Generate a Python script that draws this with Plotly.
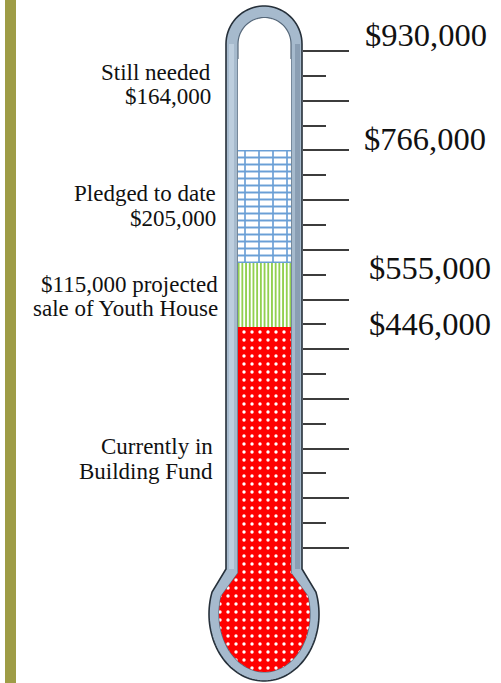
import numpy as np
import plotly.graph_objects as go

# ---------------- data ----------------
segment_names = ["Currently in Building Fund", "Projected sale of Youth House",
                 "Pledged to date", "Still needed"]
amounts = [446000, 115000, 205000, 164000]
goal = 930000
scale_labels = ["$930,000", "$766,000", "$555,000", "$446,000"]
scale_label_values = [930000, 766000, 555000, 446000]
major_ticks = [45000, 135000, 225000, 315000, 405000, 495000, 585000,
               675000, 765000, 855000, 945000]
minor_ticks = [90000, 180000, 270000, 360000, 450000, 540000, 630000,
               720000, 810000, 900000]

# ---------------- layout helpers ----------------
W, H = 501, 683
PX_PER_DOLLAR = 24.85 / 45000.0
TOP_TICK_PX = 51
y_top = major_ticks[-1] + TOP_TICK_PX / PX_PER_DOLLAR
y_bot = major_ticks[-1] - (H - TOP_TICK_PX) / PX_PER_DOLLAR
SERIF = "Liberation Serif, Times New Roman, serif"


def glass_path(xl, xr, cy_top, neck_y, ell_cx, ell_cy, rx, ry, flare_y):
    """polygon (pixel coords) of tube with round top and elliptical bulb"""
    cx = (xl + xr) / 2.0
    r = (xr - xl) / 2.0
    pts = []
    for t in np.linspace(np.pi, 0, 40):
        pts.append((cx + r * np.cos(t), cy_top - r * np.sin(t)))
    pts.append((xr, neck_y))
    s = (flare_y - ell_cy) / ry
    phi0 = np.arcsin(s)
    for p in np.linspace(phi0, np.pi - phi0, 80):
        pts.append((ell_cx + rx * np.cos(p), ell_cy + ry * np.sin(p)))
    pts.append((xl, neck_y))
    return pts


def to_svg(pts):
    return "M " + " L ".join(f"{x:.2f},{y:.2f}" for x, y in pts) + " Z"


outer = glass_path(226, 302, 44, 569, 264, 614, 55, 67, 592)
inner = glass_path(238, 291, 44, 573, 264.5, 614, 45.5, 58, 596)
zero_px = TOP_TICK_PX + major_ticks[-1] * PX_PER_DOLLAR

# bulb (lower part of inner cavity) polygon
s = (596 - 614) / 58.0
phi0 = np.arcsin(s)
bulb_pts = [(291, zero_px), (291, 573)]
for p in np.linspace(phi0, np.pi - phi0, 80):
    bulb_pts.append((264.5 + 45.5 * np.cos(p), 614 + 58 * np.sin(p)))
bulb_pts += [(238, 573), (238, zero_px), (291, zero_px)]

RED_DOTS = dict(shape=".", bgcolor="#FF0000", fgcolor="white",
                size=8, solidity=0.14, fillmode="replace")

fig = go.Figure()

# red bulb
fig.add_trace(go.Scatter(
    x=[p[0] for p in bulb_pts], y=[p[1] for p in bulb_pts],
    xaxis="x", yaxis="y2", mode="lines", fill="toself",
    fillcolor="#FF0000", line=dict(width=0, color="#FF0000"),
    fillpattern=RED_DOTS, hoverinfo="skip", showlegend=False))

bases = np.concatenate([[0], np.cumsum(amounts)[:-1]])
fills = [
    dict(color="#FF0000", pattern=RED_DOTS),
    dict(color="#92D050", pattern=dict(shape="|", bgcolor="white", fgcolor="#92D050",
                                       size=3.7, solidity=0.5, fillmode="replace")),
    dict(color="#5B9BD5", pattern=dict(shape="-", bgcolor="white", fgcolor="#6A9FD6",
                                       size=7, solidity=0.28, fillmode="replace")),
    dict(color="white", pattern=dict(shape="")),
]
for name, amt, b, f in zip(segment_names, amounts, bases, fills):
    fig.add_trace(go.Bar(
        x=[264.5], y=[amt], base=[b], width=53, name=name,
        marker=dict(color=f["color"], pattern=f["pattern"], line=dict(width=0)),
        xaxis="x", yaxis="y", showlegend=False, hoverinfo="skip"))
# vertical joints of the brick pattern (same pledged segment)
fig.add_trace(go.Bar(
    x=[264.5], y=[amounts[2]], base=[bases[2]], width=53,
    marker=dict(color="rgba(0,0,0,0)", line=dict(width=0),
                pattern=dict(shape="|", bgcolor="rgba(0,0,0,0)", fgcolor="#6A9FD6",
                             size=14, solidity=0.12, fillmode="replace")),
    xaxis="x", yaxis="y", showlegend=False, hoverinfo="skip"))

shapes = [
    dict(type="rect", xref="x", yref="y2", x0=5, x1=16, y0=0, y1=H,
         fillcolor="#9E9C46", line=dict(width=0), layer="below"),
    dict(type="path", xref="x", yref="y2", path=to_svg(outer),
         fillcolor="#A6BACD", line=dict(color="#26303A", width=1.6), layer="below"),
    dict(type="rect", xref="x", yref="y2", x0=229, x1=234, y0=44, y1=569,
         fillcolor="#C3D3E2", line=dict(width=0), opacity=0.8, layer="below"),
    dict(type="rect", xref="x", yref="y2", x0=295, x1=300, y0=44, y1=569,
         fillcolor="#8397AC", line=dict(width=0), opacity=0.8, layer="below"),
    dict(type="path", xref="x", yref="y2", path=to_svg(inner),
         fillcolor="white", line=dict(color="#56687A", width=1.2), layer="below"),
]

annotations = []
left_blocks = [
    (["Still needed", f"${amounts[3]:,}"], 213, [72, 96]),
    (["Pledged to date", f"${amounts[2]:,}"], 218, [193, 218]),
    ([f"${amounts[1]:,} projected", "sale of Youth House"], 220, [284, 308]),
    (["Currently in", "Building Fund"], 215, [446, 471]),
]
for lines, xr, ys in left_blocks:
    for txt, yc in zip(lines, ys):
        annotations.append(dict(
            text=txt, x=xr, y=yc, xref="x", yref="y2", xanchor="right",
            yanchor="middle", showarrow=False,
            font=dict(family=SERIF, size=23, color="#111111")))

right_x = [363, 362, 367, 367]
right_shift = [24, 11, -2, 3]
for txt, v, xl, sh in zip(scale_labels, scale_label_values, right_x, right_shift):
    annotations.append(dict(
        text=txt, x=xl, y=v, xref="x", yref="y", xanchor="left",
        yanchor="middle", yshift=sh, showarrow=False,
        font=dict(family=SERIF, size=32.5, color="#111111")))

fig.update_layout(
    width=W, height=H, margin=dict(l=0, r=0, t=0, b=0),
    paper_bgcolor="white", plot_bgcolor="white",
    barmode="overlay", bargap=0,
    xaxis=dict(range=[0, W], visible=False, domain=[0, 1], fixedrange=True),
    yaxis=dict(range=[y_bot, y_top], anchor="free", position=302 / W, side="right",
               showgrid=False, zeroline=False, showline=False, showticklabels=False,
               ticks="outside", tickmode="array", tickvals=major_ticks,
               ticklen=46, tickwidth=2, tickcolor="#3C3C3C",
               minor=dict(tickmode="array", tickvals=minor_ticks, ticks="outside",
                          ticklen=23, tickwidth=2, tickcolor="#3C3C3C", showgrid=False),
               fixedrange=True),
    yaxis2=dict(range=[H, 0], overlaying="y", visible=False, anchor="x", fixedrange=True),
    shapes=shapes, annotations=annotations,
)

fig.write_html("out.html")
